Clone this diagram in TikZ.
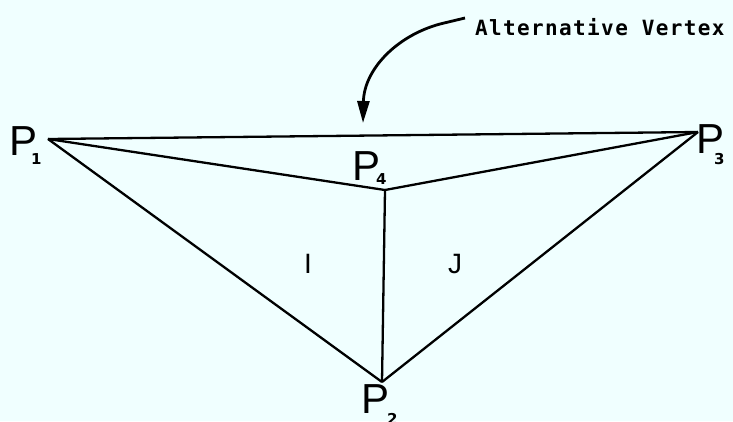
\documentclass[tikz,border=0pt]{standalone}
\usepackage{fontspec}
\setmainfont{Liberation Sans}
\newfontfamily\labelmono{DejaVu Sans Mono}[LetterSpace=6.5]
\newfontfamily\subfont{DejaVu Sans}
\usetikzlibrary{arrows.meta}
\definecolor{bgcyan}{HTML}{F0FFFF}
\tikzset{
  edge/.style={line width=2.3pt, line join=round},
  plabel/.style={inner sep=0pt, anchor=base west, font=\fontsize{42}{42}\selectfont},
  sublabel/.style={inner sep=0pt, anchor=base west, font=\subfont\bfseries\fontsize{15}{15}\selectfont},
  region/.style={inner sep=0pt, anchor=base, font=\fontsize{28}{28}\selectfont},
  note/.style={inner sep=0pt, anchor=base west, font=\labelmono\bfseries\fontsize{21}{21}\selectfont},
  pointer/.style={line width=2.8pt, -{Triangle[length=22pt,width=12pt]}}
}
\begin{document}
\begin{tikzpicture}[x=1pt,y=-1pt]
\fill[bgcyan] (0,0) rectangle (733,421);
\useasboundingbox (0,0) rectangle (733,421);
\coordinate (v1) at (48,139);
\coordinate (v3) at (698,132);
\coordinate (v4) at (385,190);
\coordinate (v2) at (382,382);
\draw[edge] (v1) -- (v3);
\draw[edge] (v1) -- (v4);
\draw[edge] (v4) -- (v3);
\draw[edge] (v1) -- (v2);
\draw[edge] (v4) -- (v2);
\draw[edge] (v3) -- (v2);
\node[plabel] (p1) at (9,155) {P};
\node[sublabel] (s1) at (31,164) {1};
\node[plabel] (p3) at (696,153) {P};
\node[sublabel] (s3) at (714,164) {3};
\node[plabel] (p4) at (352,180) {P};
\node[sublabel] (s4) at (376,184) {4};
\node[plabel] (p2) at (361,413) {P};
\node[sublabel] (s2) at (387,424) {2};
\node[region] (ri) at (308,273) {I};
\node[region] (rj) at (455,273) {J};
\node[note] (alt) at (475,35) {Alternative Vertex};
\coordinate (astart) at (465,18);
\coordinate (abend) at (440,24);
\coordinate (atip) at (363,123);
\draw[pointer] (astart) -- (abend) .. controls (396,36) and (364,70) .. (atip);
\end{tikzpicture}
\end{document}
